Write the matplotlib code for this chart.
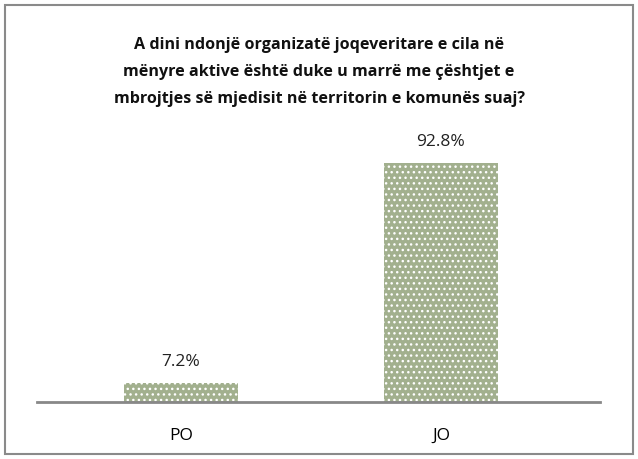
import matplotlib

matplotlib.use("Agg")
import matplotlib.pyplot as plt  # noqa: E402
from matplotlib.patches import Rectangle  # noqa: E402

categories = ["PO", "JO"]
values = [7.2, 92.8]
title = ("A dini ndonjë organizatë joqeveritare e cila në\n"
         "mënyre aktive është duke u marrë me çështjet e\n"
         "mbrojtjes së mjedisit në territorin e komunës suaj?")

plt.rcParams["font.family"] = ["Open Sans", "DejaVu Sans"]
plt.rcParams["hatch.color"] = "white"
plt.rcParams["hatch.linewidth"] = 1.0

fig = plt.figure(figsize=(6.38, 4.6), dpi=100)
fig.patches.append(Rectangle((5 / 638, 5 / 460), 628 / 638, 449 / 460,
                             transform=fig.transFigure, fill=False,
                             edgecolor="#8a8a8a", linewidth=1.5))

ax = fig.add_axes([37 / 638, 57 / 460, 563 / 638, 257.5 / 460])
x = list(range(len(categories)))
bars = ax.bar(x, values, width=0.44, color="#a2b08e", edgecolor="white",
              hatch="...", linewidth=0)
for xi, v in zip(x, values):
    ax.text(xi, v + 5.5, f"{v:.1f}%", ha="center", va="bottom", fontsize=12.5,
            color="#222222")

ax.set_xlim(-0.554, 1.612)
ax.set_ylim(0, 100)
ax.set_xticks(x)
ax.set_xticklabels(categories, fontsize=12.5)
ax.tick_params(axis="x", length=0, pad=18)
ax.set_yticks([])
for s in ["top", "right", "left"]:
    ax.spines[s].set_visible(False)
ax.spines["bottom"].set_color("#888888")
ax.spines["bottom"].set_linewidth(2)

fig.text(0.5, 1 - 72 / 460, title, ha="center", va="center", fontsize=11.6,
         fontweight="bold", linespacing=1.9, color="#111111")

fig.savefig("out.png", dpi=100)
